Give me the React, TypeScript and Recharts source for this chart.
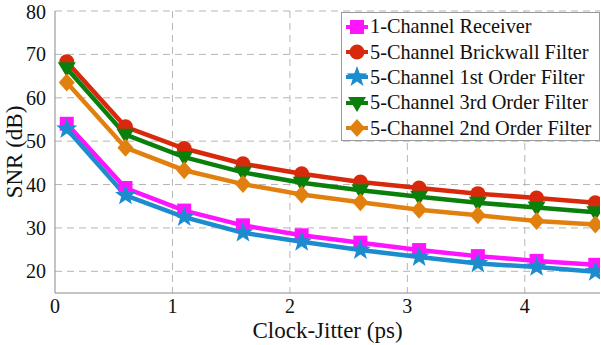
import { LineChart, Line, XAxis, YAxis, CartesianGrid, Label } from "recharts";

const jitter = [0.1, 0.6, 1.1, 1.6, 2.1, 2.6, 3.1, 3.6, 4.1, 4.6];
const oneChannel = [54.0, 39.2, 34.0, 30.6, 28.3, 26.6, 24.9, 23.5, 22.4, 21.5];
const brickwall = [68.3, 53.3, 48.3, 44.8, 42.5, 40.6, 39.2, 37.9, 36.9, 35.8];
const firstOrder = [52.8, 37.5, 32.5, 28.9, 26.8, 24.9, 23.3, 21.8, 21.0, 19.9];
const thirdOrder = [66.8, 51.5, 46.3, 42.8, 40.4, 38.7, 37.2, 35.8, 34.7, 33.6];
const secondOrder = [63.5, 48.5, 43.3, 40.1, 37.7, 35.9, 34.2, 32.9, 31.6, 30.8];

const xTicks = [0, 1, 2, 3, 4];
const yTicks = [20, 30, 40, 50, 60, 70, 80];

const data = jitter.map((x, i) => ({
  x,
  one: oneChannel[i],
  brick: brickwall[i],
  first: firstOrder[i],
  third: thirdOrder[i],
  second: secondOrder[i],
}));

const FONT = "Liberation Serif";

type Shape = "square" | "circle" | "star" | "tri" | "diamond";

function starPath(cx: number, cy: number, R: number, r: number) {
  let d = "";
  for (let k = 0; k < 10; k++) {
    const a = -Math.PI / 2 + (k * Math.PI) / 5;
    const rad = k % 2 === 0 ? R : r;
    d += (k === 0 ? "M" : "L") + (cx + rad * Math.cos(a)) + "," + (cy + rad * Math.sin(a));
  }
  return d + "Z";
}

function Marker({ cx, cy, shape, color }: { cx: number; cy: number; shape: Shape; color: string }) {
  if (cx == null || cy == null) return null;
  switch (shape) {
    case "square":
      return <rect x={cx - 7} y={cy - 7} width={14} height={14} fill={color} />;
    case "circle":
      return <circle cx={cx} cy={cy} r={7.5} fill={color} />;
    case "star":
      return <path d={starPath(cx, cy, 11, 4.5)} fill={color} />;
    case "tri":
      return <path d={`M${cx - 9},${cy - 6}L${cx + 9},${cy - 6}L${cx},${cy + 9}Z`} fill={color} />;
    default:
      return <path d={`M${cx},${cy - 9}L${cx + 8},${cy}L${cx},${cy + 9}L${cx - 8},${cy}Z`} fill={color} />;
  }
}

const series: { key: string; name: string; color: string; shape: Shape }[] = [
  { key: "one", name: "1-Channel Receiver", color: "#FF14FF", shape: "square" },
  { key: "brick", name: "5-Channel Brickwall Filter", color: "#D9290C", shape: "circle" },
  { key: "first", name: "5-Channel 1st Order Filter", color: "#1C8CCF", shape: "star" },
  { key: "third", name: "5-Channel 3rd Order Filter", color: "#0B7F0B", shape: "tri" },
  { key: "second", name: "5-Channel 2nd Order Filter", color: "#E2800F", shape: "diamond" },
];

function LegendBox() {
  return (
    <div
      style={{
        position: "absolute",
        left: 341,
        top: 12,
        width: 259,
        height: 129,
        boxSizing: "border-box",
        border: "1px solid #9a9a9a",
        background: "#fff",
        padding: "1px 0 0 3px",
        fontFamily: FONT,
        fontSize: 20.3,
        color: "#111",
        overflow: "hidden",
      }}
    >
      {series.map((s) => (
        <div key={s.key} style={{ display: "flex", alignItems: "center", height: 25.4 }}>
          <svg width={24} height={22} style={{ marginRight: 1, flex: "none" }}>
            <line x1={1} y1={11} x2={23} y2={11} stroke={s.color} strokeWidth={4} />
            <Marker cx={12} cy={11} shape={s.shape} color={s.color} />
          </svg>
          <span style={{ whiteSpace: "nowrap" }}>{s.name}</span>
        </div>
      ))}
    </div>
  );
}

export default function App() {
  return (
    <div style={{ position: "absolute", left: 0, top: 0, width: 601, height: 345, background: "#fff" }}>
      <LineChart width={601} height={345} data={data} margin={{ top: 11, right: 1, left: 0, bottom: 0 }}>
        <CartesianGrid stroke="#b5b5b5" strokeDasharray="7 5" strokeWidth={1} horizontalValues={yTicks} verticalValues={[1, 2, 3, 4]} />
        <XAxis
          dataKey="x"
          type="number"
          domain={[0, 4.64]}
          ticks={xTicks}
          allowDataOverflow
          height={52}
          stroke="#8a8a8a"
          tickLine={false}
          tick={{ fontFamily: FONT, fontSize: 20, fill: "#111" }}
          tickMargin={0}
        >
          <Label value="Clock-Jitter (ps)" position="insideBottom" offset={7} style={{ fontFamily: FONT, fontSize: 23, fill: "#111" }} />
        </XAxis>
        <YAxis
          type="number"
          domain={[15, 80]}
          ticks={yTicks}
          allowDataOverflow
          width={55}
          stroke="#8a8a8a"
          tickLine={false}
          tick={{ fontFamily: FONT, fontSize: 20, fill: "#111" }}
          tickMargin={3}
        >
          <Label value="SNR (dB)" angle={-90} position="insideLeft" offset={14} style={{ fontFamily: FONT, fontSize: 23, fill: "#111", textAnchor: "middle" }} />
        </YAxis>
        {series.map((s) => (
          <Line
            key={s.key}
            dataKey={s.key}
            name={s.name}
            stroke={s.color}
            strokeWidth={4.5}
            isAnimationActive={false}
            dot={(p: any) => <Marker key={`${s.key}-${p.index}`} cx={p.cx} cy={p.cy} shape={s.shape} color={s.color} />}
            activeDot={false}
          />
        ))}
      </LineChart>
      <LegendBox />
    </div>
  );
}
